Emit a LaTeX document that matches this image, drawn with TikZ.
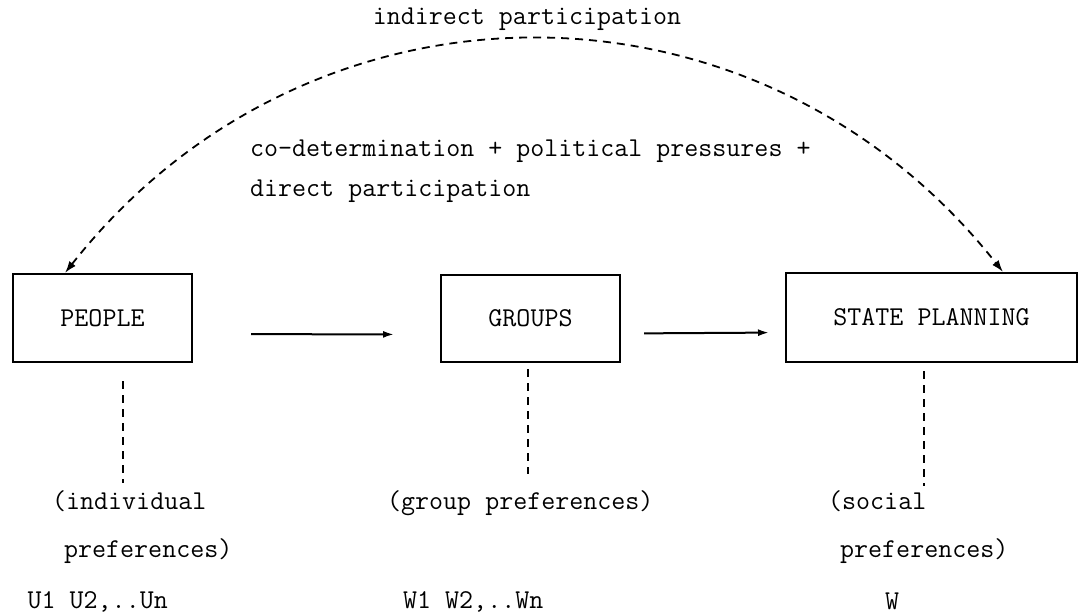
\documentclass[tikz,border=0pt]{standalone}
\usetikzlibrary{arrows.meta}
\begin{document}
\begin{tikzpicture}[x=1pt,y=-1pt,
  every node/.style={font=\fontsize{27.2}{32}\ttfamily},
  box/.style={draw,line width=2pt,inner sep=0pt},
  lbl/.style={anchor=west,inner sep=0pt,text height=0.7em,text depth=0.2em},
  title/.style={inner sep=0pt,text height=0.7em,text depth=0.2em},
  flow/.style={line width=2pt,-{Latex[length=11pt,width=7pt]}},
  link/.style={line width=1.8pt,dash pattern=on 8pt off 6pt},
  loop/.style={link,{Latex[length=12pt,width=8pt]}-{Latex[length=12pt,width=8pt]}},
]
\useasboundingbox (0,0) rectangle (1081,614);

% the three levels
\node[box,minimum width=179pt,minimum height=88pt] (people) at (102.5,318) {PEOPLE};
\node[box,minimum width=179pt,minimum height=87pt] (groups) at (530.5,318.5) {GROUPS};
\node[box,minimum width=291pt,minimum height=89pt] (state) at (931.5,317.5) {STATE PLANNING};

% flows between levels
\draw[flow,shorten <=58pt,shorten >=46pt] ([yshift=-16pt]people.east) -- ([yshift=-16pt]groups.west);
\draw[flow,shorten <=23pt,shorten >=16pt] ([yshift=-15pt]groups.east) -- ([yshift=-15pt]state.west);

% indirect participation loop
\draw[loop] ([xshift=-37.5pt]people.north) .. controls (310,-38) and (758,-38) .. ([xshift=71.5pt]state.north);
\node[title] (indirect) at (527,22) {indirect participation};
\node[lbl] (codet) at (250,154) {co-determination + political pressures +};
\node[lbl] (direct) at (250,194) {direct participation};

% preference levels
\coordinate (pend) at (123,483);
\coordinate (gend) at (528,474);
\coordinate (send) at (924,486);
\draw[link,shorten <=18pt] (people.south -| pend) -- (pend);
\draw[link,shorten <=6pt] (groups.south -| gend) -- (gend);
\draw[link,shorten <=8pt] (state.south -| send) -- (send);

\node[lbl] (ind) at (52,507) {(individual};
\node[lbl] (indp) at (64,555) {preferences)};
\node[lbl] (uvals) at (27.5,606) {U1 U2,..Un};
\node[lbl] (grp) at (387,507) {(group preferences)};
\node[lbl] (wvals) at (403,606) {W1 W2,..Wn};
\node[lbl] (soc) at (828,507) {(social};
\node[lbl] (socp) at (840,555) {preferences)};
\node[lbl] (wval) at (885,607) {W};
\end{tikzpicture}
\end{document}
